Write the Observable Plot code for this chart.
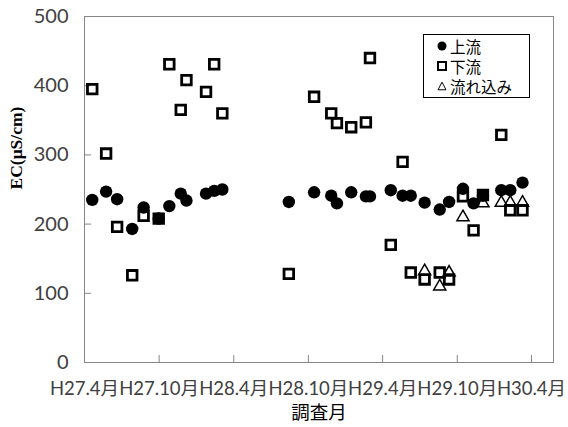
<!DOCTYPE html>
<html><head><meta charset="utf-8">
<script src="https://cdn.jsdelivr.net/npm/d3@7"></script>
<script src="https://cdn.jsdelivr.net/npm/@observablehq/plot@0.6"></script>
<style>
body{margin:0;background:#fff}
#wrap{position:relative;width:568px;height:427px;overflow:hidden}
#legend{position:absolute;left:423px;top:34px;width:105px;height:62px;border:1px solid #000;background:#fff;font-family:"Noto Sans CJK JP",sans-serif;font-size:15.5px;color:#000}
#legend .row{position:absolute;left:13px;height:20px;line-height:20px;display:flex;align-items:center;white-space:nowrap}
#legend svg{margin-right:3px}
</style>
</head><body><div id="wrap"><div id="legend"></div></div>
<script>
// 上流 (upstream)
const upDates = ["2015-04-20","2015-05-24","2015-06-20","2015-07-27","2015-08-24","2015-09-30","2015-10-26","2015-11-23","2015-12-07","2016-01-24","2016-02-13","2016-03-04","2016-08-14","2016-10-15","2016-11-26","2016-12-10","2017-01-14","2017-02-19","2017-03-01","2017-04-21","2017-05-20","2017-06-09","2017-07-13","2017-08-19","2017-09-11","2017-10-15","2017-11-10","2017-12-03","2018-01-17","2018-02-08","2018-03-10"];
const upValues = [235,247,236,193,224,208,226,244,234,244,248,250,232,246,241,230,246,240,240,249,241,241,231,221,232,251,230,241,249,249,260];
// 下流 (downstream)
const downDates = upDates;
const downValues = [395,302,196,126,212,208,431,365,408,391,431,360,128,384,360,346,340,347,440,170,290,130,120,130,120,240,191,242,329,220,220];
// 流れ込み (inflow)
const inDates = ["2017-07-13","2017-08-19","2017-09-11","2017-10-15","2017-12-03","2018-01-17","2018-02-08","2018-03-10"];
const inValues = [132,110,130,210,230,231,231,231];
// axes
const xTickDates = ["2015-04-01","2015-10-01","2016-04-01","2016-10-01","2017-04-01","2017-10-01","2018-04-01"];
const xTickLabels = ["H27.4月","H27.10月","H28.4月","H28.10月","H29.4月","H29.10月","H30.4月"];
const yTicks = [0,100,200,300,400,500];
const seriesNames = ["上流","下流","流れ込み"];

const toRows = (ds, vs) => ds.map((d, i) => ({date: new Date(d), value: vs[i]}));
const up = toRows(upDates, upValues);
const down = toRows(downDates, downValues);
const inflow = toRows(inDates, inValues);
const xt = xTickDates.map(d => new Date(d));

const W = 568, H = 427, ML = 84, MR = 15, MT = 16, MB = 65;
const PW = W - ML - MR, PH = H - MT - MB;
const grey = "#868686";

const chart = Plot.plot({
  width: W, height: H,
  marginLeft: ML, marginRight: MR, marginTop: MT, marginBottom: MB,
  style: {fontFamily: "Lato, 'Noto Sans CJK JP', sans-serif", fontSize: "18.5px", color: "#404040", background: "white"},
  x: {type: "utc", domain: [new Date("2015-04-01"), new Date("2018-05-25")]},
  y: {domain: [0, 500]},
  marks: [
    Plot.frame({stroke: grey}),
    Plot.gridY(yTicks, {stroke: grey, strokeOpacity: 1, insetRight: PW - 7}),
    Plot.gridX(xt, {stroke: grey, strokeOpacity: 1, insetTop: PH - 7}),
    Plot.axisY(yTicks, {tickSize: 0, tickPadding: 16, label: null, fill: "#404040", fontSize: 20}),
    Plot.axisX(xt, {tickSize: 0, tickPadding: 19, label: null, fill: "#404040", fontSize: 18.5,
      tickFormat: d => xTickLabels[xt.findIndex(t => +t === +d)]}),
    Plot.dot(up, {x: "date", y: "value", r: 6.2, fill: "black", symbol: "circle"}),
    Plot.dot(down, {x: "date", y: "value", r: 5.4, stroke: "black", strokeWidth: 2.8, fill: "none", symbol: "square"}),
    Plot.dot(inflow, {x: "date", y: "value", r: 4.5, stroke: "black", strokeWidth: 1.5, fill: "none", symbol: "triangle"}),
    Plot.text(["EC(μS/cm)"], {frameAnchor: "left", dx: -68, rotate: -90, fontWeight: "bold", fontSize: 17.5, fontFamily: "'Liberation Serif', serif", fill: "black"}),
    Plot.text(["調査月"], {frameAnchor: "bottom", dy: 56, fontSize: 18.5, fontFamily: "'Noto Sans CJK JP', sans-serif", fill: "black"})
  ]
});
document.getElementById("wrap").prepend(chart);

const legend = document.getElementById("legend");
const markers = [
  '<svg width="10" height="10"><circle cx="5" cy="5" r="4.5" fill="black"/></svg>',
  '<svg width="10" height="10"><rect x="1" y="1" width="8" height="8" fill="none" stroke="black" stroke-width="2"/></svg>',
  '<svg width="10" height="10"><path d="M5,1.2 L9,8.8 L1,8.8 Z" fill="none" stroke="black" stroke-width="1"/></svg>'
];
seriesNames.forEach((n, i) => {
  const row = document.createElement("div");
  row.className = "row";
  row.style.top = (1 + i * 20) + "px";
  row.innerHTML = markers[i] + "<span>" + n + "</span>";
  legend.appendChild(row);
});
</script>
</body></html>
